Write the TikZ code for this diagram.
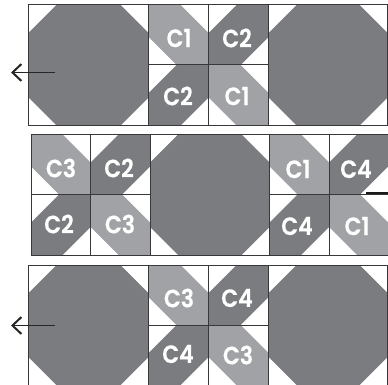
\documentclass[tikz,border=0pt]{standalone}
\usepackage{fontspec}
\usepackage{graphicx}
\newfontfamily\labfont{Poppins SemiBold}[FakeBold=0.4]
\newcommand{\lb}[1]{\scalebox{0.88}[1]{#1}}
\usetikzlibrary{arrows.meta}
\definecolor{darkp}{HTML}{7B7C7F}
\definecolor{lightp}{HTML}{A1A2A5}
\definecolor{linec}{HTML}{38383A}
\tikzset{
  lab/.style={text=white,font=\labfont\fontsize{25}{25}\selectfont,inner sep=0pt},
  frame/.style={draw=linec,line width=1pt},
  arrowline/.style={draw=black!85,line width=1.7pt,-{Straight Barb[length=9pt,width=17pt,line width=2pt]}},
}
% octagon block: left x, top y, width, height
\newcommand{\octblock}[4]{%
  \fill[darkp] (#1+28,#2) -- (#1+#3-28,#2) -- (#1+#3,#2+28) -- (#1+#3,#2+#4-28) -- (#1+#3-28,#2+#4) -- (#1+28,#2+#4) -- (#1,#2+#4-28) -- (#1,#2+28) -- cycle;
  \draw[frame] (#1,#2) rectangle (#1+#3,#2+#4);}
% light cell: white corners top-right and bottom-left
\newcommand{\cellL}[4]{%
  \fill[lightp] (#1,#2) -- (#1+#3-28,#2) -- (#1+#3,#2+28) -- (#1+#3,#2+#4) -- (#1+28,#2+#4) -- (#1,#2+#4-28) -- cycle;
  \draw[frame] (#1,#2) rectangle (#1+#3,#2+#4);}
% dark cell: white corners top-left and bottom-right
\newcommand{\cellD}[4]{%
  \fill[darkp] (#1+28,#2) -- (#1+#3,#2) -- (#1+#3,#2+#4-28) -- (#1+#3-28,#2+#4) -- (#1,#2+#4) -- (#1,#2+28) -- cycle;
  \draw[frame] (#1,#2) rectangle (#1+#3,#2+#4);}
\begin{document}
\begin{tikzpicture}[x=1pt,y=-1pt]
\useasboundingbox (0,0) rectangle (388,385);
\fill[white] (0,0) rectangle (388,385);
% row 1
\octblock{28.5}{5}{120}{120.5}
\cellL{148.5}{5}{60}{60}
\cellD{208.5}{5}{60}{60}
\cellD{148.5}{65}{60}{60.5}
\cellL{208.5}{65}{60}{60.5}
\octblock{268.5}{5}{119}{120.5}
\node[lab] (r1a) at (179,38) {\lb{C1}};
\node[lab] (r1b) at (237,38) {\lb{C2}};
\node[lab] (r1c) at (178,96) {\lb{C2}};
\node[lab] (r1d) at (237,96) {\lb{C1}};
% row 2
\cellL{31}{134.5}{59.5}{60}
\cellD{90.5}{134.5}{59.5}{60}
\cellD{31}{194.5}{59.5}{60.5}
\cellL{90.5}{194.5}{59.5}{60.5}
\octblock{150}{134.5}{119.5}{120.5}
\cellL{269.5}{134.5}{59.5}{60}
\cellD{329}{134.5}{59}{60}
\cellD{269.5}{194.5}{59.5}{60.5}
\cellL{329}{194.5}{59}{60.5}
\node[lab] (r2a) at (61,168) {\lb{C3}};
\node[lab] (r2b) at (119,168) {\lb{C2}};
\node[lab] (r2c) at (59,224) {\lb{C2}};
\node[lab] (r2d) at (120,224) {\lb{C3}};
\node[lab] (r2e) at (298,169) {\lb{C1}};
\node[lab] (r2f) at (356,169) {\lb{C4}};
\node[lab] (r2g) at (297,226) {\lb{C4}};
\node[lab] (r2h) at (357,226) {\lb{C1}};
\coordinate (tickA) at (366,192.8);
\coordinate (tickB) at (388,192.8);
\draw[black!90,line width=1.5pt] (tickA) -- (tickB);
% row 3
\octblock{28.5}{265}{120}{120}
\cellL{148.5}{265}{60}{60}
\cellD{208.5}{265}{60}{60}
\cellD{148.5}{325}{60}{60}
\cellL{208.5}{325}{60}{60}
\octblock{268.5}{265}{119}{120}
\node[lab] (r3a) at (179,298) {\lb{C3}};
\node[lab] (r3b) at (237,298) {\lb{C4}};
\node[lab] (r3c) at (178,354) {\lb{C4}};
\node[lab] (r3d) at (238,355) {\lb{C3}};
% arrows
\coordinate (a1s) at (55,72.5);
\coordinate (a1e) at (11,72.5);
\coordinate (a2s) at (55,325.5);
\coordinate (a2e) at (11,325.5);
\draw[arrowline] (a1s) -- (a1e);
\draw[arrowline] (a2s) -- (a2e);
\end{tikzpicture}
\end{document}
